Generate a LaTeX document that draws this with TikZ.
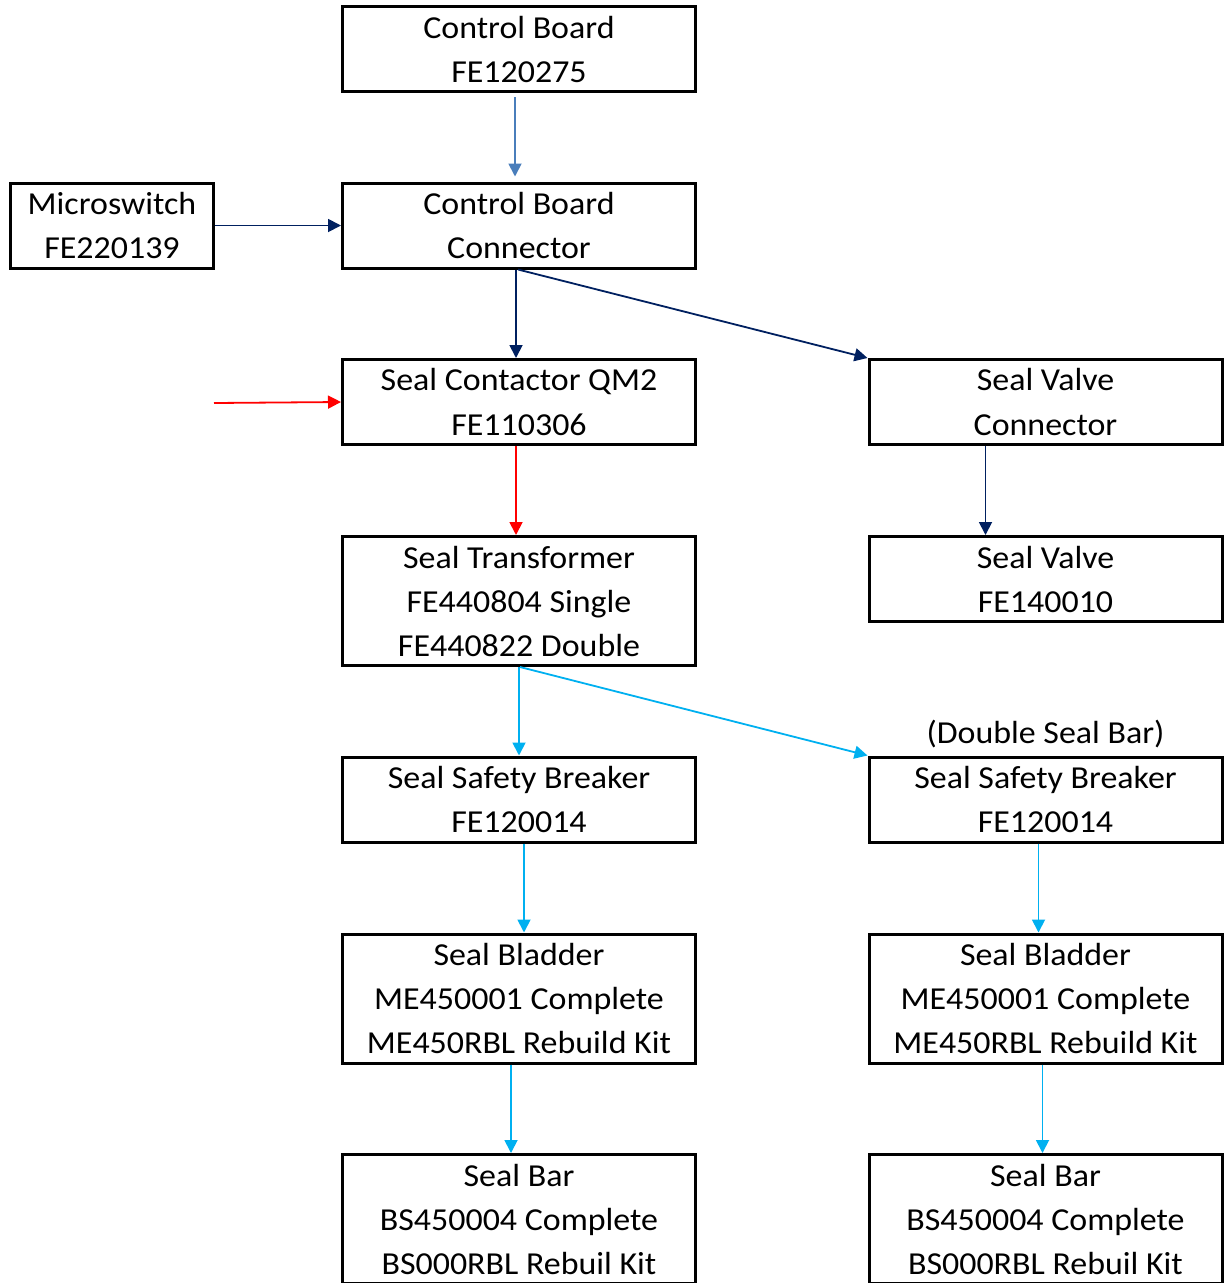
\documentclass[tikz,border=0pt]{standalone}
\usepackage{fontspec}
\setmainfont{Carlito}[FakeStretch=1.06]
\usepackage{tikz}
\usetikzlibrary{arrows.meta,positioning}
\tikzset{blk/.style={rectangle,draw,line width=3pt,minimum width=353pt,minimum height=85pt,inner sep=0pt,align=center,font=\fontsize{32pt}{44pt}\selectfont},
tall/.style={minimum height=129pt},
arr/.style={line width=1.8pt,-{Triangle[length=13pt,width=13pt]}}}
\definecolor{steel}{RGB}{74,126,187}
\definecolor{navy}{RGB}{0,32,96}
\definecolor{sky}{RGB}{0,176,240}

\begin{document}
\begin{tikzpicture}[x=1pt,y=-1pt]
        \useasboundingbox (0,0) rectangle (1225,1283);
        \clip (0,0) rectangle (1225,1283);
        \node[blk] (cb) at (519,49) {Control Board\\FE120275};
        \node[blk,minimum width=203pt] (ms) at (112,225.5) {Microswitch\\FE220139};
        \node[blk] (cbc) at (519,225.5) {Control Board\\Connector};
        \node[blk] (qm) at (519,402) {Seal Contactor QM2\\FE110306};
        \node[blk] (svc) at (1045.5,402) {Seal Valve\\Connector};
        \node[blk,tall] (tr) at (519,601) {Seal Transformer\\FE440804 Single\\FE440822 Double};
        \node[blk] (sv) at (1045.5,579) {Seal Valve\\FE140010};
        \node[blk] (ssl) at (519,799.5) {Seal Safety Breaker\\FE120014};
        \node[blk] (ssr) at (1045.5,799.5) {Seal Safety Breaker\\FE120014};
        \node[font=\fontsize{32pt}{44pt}\selectfont,inner sep=0pt] (dsb) at (1045.5,734) {(Double Seal Bar)};
        \node[blk,tall] (bdl) at (519,998.5) {Seal Bladder\\ME450001 Complete\\ME450RBL Rebuild Kit};
        \node[blk,tall] (bdr) at (1045.5,998.5) {Seal Bladder\\ME450001 Complete\\ME450RBL Rebuild Kit};
        \node[blk,tall] (sbl) at (519,1219) {Seal Bar\\BS450004 Complete\\BS000RBL Rebuil Kit};
        \node[blk,tall] (sbr) at (1045.5,1219) {Seal Bar\\BS450004 Complete\\BS000RBL Rebuil Kit};
        \coordinate (feed) at (214,403);

        \draw [arr,steel,shorten <=4pt,shorten >=5pt] ([xshift=-4pt]cb.south) to [] ([xshift=-4pt]cbc.north);
        \draw [arr,navy] (ms.east) to [] (cbc.west);
        \draw [arr,navy] ([xshift=-3pt]cbc.south) to [] ([xshift=-3pt]qm.north);
        \draw [arr,navy] ([xshift=-1pt]cbc.south) to [] (svc.north west);
        \draw [arr,red] (feed) to [] (qm.west);
        \draw [arr,red] ([xshift=-3pt]qm.south) to [] ([xshift=-3pt]tr.north);
        \draw [arr,navy] ([xshift=-60pt]svc.south) to [] ([xshift=-60pt]sv.north);
        \draw [arr,sky] (tr.south) to [] (ssl.north);
        \draw [arr,sky] ([xshift=1pt]tr.south) to [] (ssr.north west);
        \draw [arr,sky] ([xshift=5pt]ssl.south) to [] ([xshift=5pt]bdl.north);
        \draw [arr,sky] ([xshift=-7pt]ssr.south) to [] ([xshift=-7pt]bdr.north);
        \draw [arr,sky] ([xshift=-8pt]bdl.south) to [] ([xshift=-8pt]sbl.north);
        \draw [arr,sky] ([xshift=-3pt]bdr.south) to [] ([xshift=-3pt]sbr.north);

    \end{tikzpicture}
\end{document}
